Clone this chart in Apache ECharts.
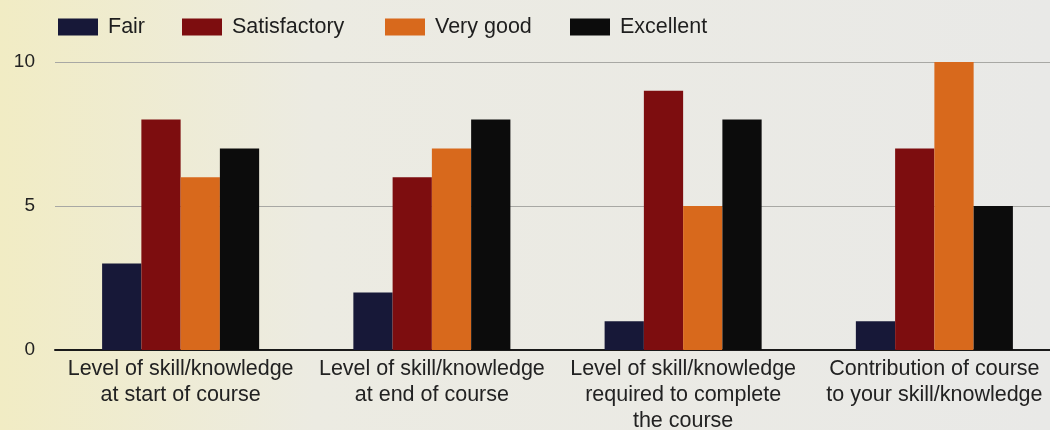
<!DOCTYPE html>
<html>
<head>
<meta charset="utf-8">
<script src="https://cdn.jsdelivr.net/npm/echarts@6/dist/echarts.min.js"></script>
<style>
  html, body { margin: 0; padding: 0; background: #ebeae6; }
  #chart { width: 1050px; height: 430px; }
</style>
</head>
<body>
<div id="chart"></div>
<script>
// categories and ratings (number of responses)
const categories = [
  'Level of skill/knowledge\nat start of course',
  'Level of skill/knowledge\nat end of course',
  'Level of skill/knowledge\nrequired to complete\nthe course',
  'Contribution of course\nto your skill/knowledge'
];
const seriesNames = ['Fair', 'Satisfactory', 'Very good', 'Excellent'];
const fair = [3, 2, 1, 1];
const satisfactory = [8, 6, 9, 7];
const veryGood = [6, 7, 5, 10];
const excellent = [7, 8, 8, 5];
const yTicks = [0, 5, 10];

const colors = ['#171838', '#7d0d0f', '#d8691c', '#0c0c0c'];
const legendLeft = [53, 177, 380, 565];

const chart = echarts.init(document.getElementById('chart'));

function bar(name, data, color) {
  return {
    name: name,
    type: 'bar',
    data: data,
    barGap: '0%',
    barCategoryGap: '37.5%',
    itemStyle: { color: color },
    animation: false
  };
}

// one legend per item so each sits where the original put it
const legends = seriesNames.map((n, i) => ({
  left: legendLeft[i],
  top: 11,
  itemWidth: 40,
  itemHeight: 17,
  icon: 'rect',
  textStyle: { fontSize: 21.5, color: '#1e1e1e', padding: [0, 0, 0, 5] },
  data: [n]
}));

chart.setOption({
  backgroundColor: {
    type: 'linear', x: 0, y: 0, x2: 1, y2: 0,
    colorStops: [
      { offset: 0, color: '#f1ecc4' },
      { offset: 0.3, color: '#ecebe2' },
      { offset: 1, color: '#e9e9e7' }
    ]
  },
  textStyle: { fontFamily: 'Liberation Sans, Arial, sans-serif' },
  legend: legends,
  grid: { left: 55, width: 1005, top: 62, bottom: 80, outerBoundsMode: 'none', containLabel: false },
  xAxis: {
    type: 'category',
    data: categories,
    axisTick: { show: false },
    axisLine: { lineStyle: { color: '#1a1a1a', width: 2 } },
    axisLabel: {
      color: '#222',
      fontSize: 21.5,
      lineHeight: 26,
      margin: 6,
      interval: 0
    }
  },
  yAxis: {
    type: 'value',
    min: 0,
    max: 10,
    interval: 5,
    axisLine: { show: false },
    axisTick: { show: false },
    splitLine: { lineStyle: { color: '#a8a8a4', width: 1 } },
    axisLabel: {
      color: '#222',
      fontSize: 19,
      margin: 20,
      formatter: v => yTicks.includes(v) ? String(v) : ''
    }
  },
  series: [
    bar(seriesNames[0], fair, colors[0]),
    bar(seriesNames[1], satisfactory, colors[1]),
    bar(seriesNames[2], veryGood, colors[2]),
    bar(seriesNames[3], excellent, colors[3])
  ]
});
</script>
</body>
</html>
